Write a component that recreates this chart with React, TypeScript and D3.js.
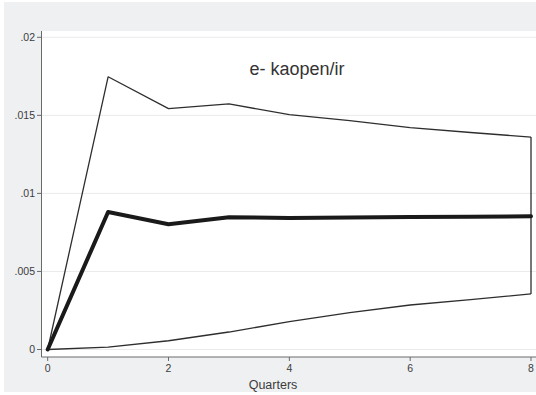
import * as d3 from 'd3';

// impulse response, e- kaopen/ir
const quarters = [0, 1, 2, 3, 4, 5, 6, 7, 8];
const irf = [0, 0.00881, 0.00802, 0.00847, 0.00843, 0.00846, 0.00849, 0.00851, 0.00853];
const upper = [0, 0.01747, 0.01543, 0.01573, 0.01504, 0.01466, 0.01422, 0.0139, 0.01361];
const lower = [0, 0.00015, 0.00056, 0.00112, 0.00178, 0.00236, 0.00285, 0.0032, 0.00356];

const yTicks = [0, 0.005, 0.01, 0.015, 0.02];
const yTickLabels = ['0', '.005', '.01', '.015', '.02'];
const xTicks = [0, 2, 4, 6, 8];

const W = 536;
const H = 395;
const font = "'Liberation Sans', Arial, sans-serif";

const App = () => {
    const x = d3.scaleLinear().domain([0, 8]).range([47.7, 531]);
    const y = d3.scaleLinear().domain([0, 0.02]).range([349.5, 37.3]);

    // plot region edges
    const left = 41.5;
    const top = 31;
    const bottom = 357;

    const line = d3.line<number>()
        .x((_, i) => x(quarters[i]))
        .y(d => y(d));

    return (
        <svg width={W} height={H} style={{ position: 'absolute', left: 0, top: 0, fontFamily: font }}>
            <rect x={0} y={0} width={W} height={H} fill="#ffffff" />
            <rect x={4} y={2} width={W - 4} height={390} fill="#eef0f2" />
            <rect x={left} y={top} width={W - left} height={bottom - top} fill="#ffffff" />

            {/* gridlines */}
            {yTicks.map(t => (
                <line key={'g' + t} x1={left} x2={W} y1={y(t)} y2={y(t)} stroke="#eaeaea" strokeWidth={1} />
            ))}

            {/* axes */}
            <line x1={left} x2={left} y1={top} y2={bottom} stroke="#6a6a6a" strokeWidth={1} />
            <line x1={left} x2={W} y1={bottom} y2={bottom} stroke="#6a6a6a" strokeWidth={1} />

            {yTicks.map((t, i) => (
                <g key={'y' + t}>
                    <line x1={left - 4.5} x2={left} y1={y(t)} y2={y(t)} stroke="#6a6a6a" strokeWidth={1} />
                    <text x={left - 6.5} y={y(t) + 3.8} textAnchor="end" fontSize={10.5} fill="#3c3c3c">
                        {yTickLabels[i]}
                    </text>
                </g>
            ))}

            {xTicks.map(t => (
                <g key={'x' + t}>
                    <line x1={x(t)} x2={x(t)} y1={bottom} y2={bottom + 4} stroke="#6a6a6a" strokeWidth={1} />
                    <text x={x(t)} y={372} textAnchor="middle" fontSize={10.5} fill="#3c3c3c">
                        {t}
                    </text>
                </g>
            ))}

            <text x={273} y={389} textAnchor="middle" fontSize={12.5} fill="#3c3c3c">Quarters</text>

            {/* confidence band */}
            <path d={line(upper) ?? ''} fill="none" stroke="#2e2e2e" strokeWidth={1.3} strokeLinejoin="round" />
            <path d={line(lower) ?? ''} fill="none" stroke="#2e2e2e" strokeWidth={1.3} strokeLinejoin="round" />
            <line x1={x(8)} x2={x(8)} y1={y(upper[8])} y2={y(lower[8])} stroke="#2e2e2e" strokeWidth={1.3} />

            {/* point estimate */}
            <path d={line(irf) ?? ''} fill="none" stroke="#1a1a1a" strokeWidth={4} strokeLinejoin="round" strokeLinecap="round" />

            <text x={297} y={75} textAnchor="middle" fontSize={18} fill="#333333">e- kaopen/ir</text>
        </svg>
    );
};

export default App;
